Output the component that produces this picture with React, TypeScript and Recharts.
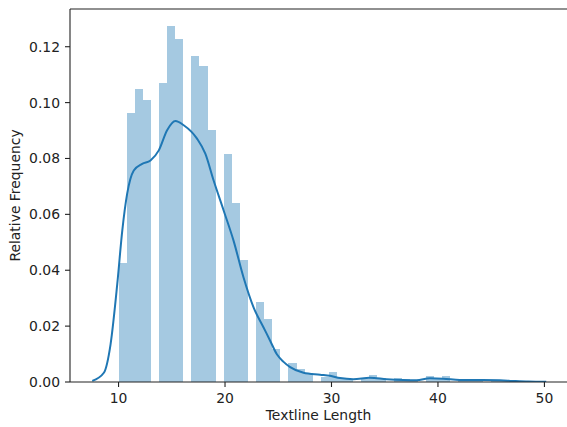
import { ComposedChart, Bar, Line, XAxis, YAxis, ReferenceLine } from 'recharts';

// histogram: 50 bins of width 0.76 starting at 10 (textline lengths are integers)
const BIN_START = 10;
const BIN_WIDTH = 0.76;
const binDensity = [
  0.0426, 0.0963, 0.1047, 0.1008, 0, 0.1069, 0.1275, 0.1228, 0, 0.1167,
  0.1131, 0.0901, 0, 0.0815, 0.0641, 0.0438, 0, 0.0288, 0.0227, 0.0117,
  0, 0.0069, 0.0047, 0.0034, 0, 0.0018, 0.0035, 0.0014, 0.0012, 0,
  0.0012, 0.0024, 0.0014, 0, 0.0015, 0.001, 0.0008, 0, 0.002, 0.0012,
  0.002, 0, 0.0008, 0.0007, 0.0008, 0, 0.0006, 0.0005, 0.0003, 0.0003,
];

// kde curve
const kdeX = [
  7.53, 8.62, 9.25, 9.88, 10.35, 10.81, 11.43, 12.22, 13.0, 13.78, 14.56, 15.34,
  16.12, 17.37, 18.15, 18.93, 19.87, 20.8, 21.74, 22.68, 23.62, 24.25, 24.87,
  25.5, 26.12, 27.37, 28.93, 29.87, 30.8, 32.05, 33.6, 35.18, 36.74, 37.99,
  39.24, 40.49, 42.05, 44.24, 45.8, 47.05, 48.5, 50.17,
];
const kdeY = [
  0.0004, 0.0033, 0.0135, 0.0351, 0.0542, 0.0674, 0.0757, 0.0781, 0.0793, 0.0829, 0.0901, 0.0934,
  0.0919, 0.0871, 0.0817, 0.0721, 0.0614, 0.0506, 0.0374, 0.0267, 0.0195, 0.0147, 0.0099,
  0.0072, 0.0053, 0.0033, 0.0026, 0.0022, 0.0014, 0.001, 0.0015, 0.001, 0.0007, 0.0006,
  0.0013, 0.0012, 0.0007, 0.0007, 0.0006, 0.0004, 0.0002, 0.0001,
];

const xTicks = [10, 20, 30, 40, 50];
const yTicks = [0, 0.02, 0.04, 0.06, 0.08, 0.1, 0.12];

const X_DOMAIN: [number, number] = [5.44, 52.12];
const Y_DOMAIN: [number, number] = [0, 0.1335];

const W = 567;
const H = 427;
const LEFT = 70;
const TOP = 9;
const BOTTOM = 45;

const bins = binDensity.map((d, i) => ({ x: BIN_START + BIN_WIDTH * (i + 0.5), density: d }));
const kde = kdeX.map((x, i) => ({ x, kde: kdeY[i] }));

const plotW = W - LEFT;
const barPx = (BIN_WIDTH * plotW) / (X_DOMAIN[1] - X_DOMAIN[0]);

const font = { fontFamily: 'DejaVu Sans', fontSize: 13.9, fill: '#222' };

// bar centred on its bin, full bin width
const BinBar = (props: any) => {
  const { x, y, width, height } = props;
  if (!height || height <= 0) return null;
  const cx = x + width / 2;
  return (
    <rect
      x={cx - barPx / 2}
      y={y}
      width={barPx}
      height={height}
      fill="#a5c9e1"
      shapeRendering="crispEdges"
    />
  );
};

export default function App() {
  return (
    <div style={{ position: 'absolute', left: 0, top: 0, background: '#fff' }}>
      <ComposedChart
        width={W}
        height={H}
        data={bins}
        margin={{ top: TOP, right: 0, bottom: 0, left: 0 }}
        barCategoryGap={0}
        barGap={0}
      >
        <XAxis
          dataKey="x"
          type="number"
          domain={X_DOMAIN}
          allowDataOverflow
          ticks={xTicks}
          interval={0}
          height={BOTTOM}
          tickSize={5}
          tickMargin={6}
          tick={font}
          tickLine={{ stroke: '#222', strokeWidth: 1.1 }}
          axisLine={{ stroke: '#222', strokeWidth: 1.1 }}
          label={{ value: 'Textline Length', position: 'insideBottom', offset: 7, style: font }}
        />
        <XAxis xAxisId="kde" dataKey="x" type="number" domain={X_DOMAIN} allowDataOverflow hide />
        <YAxis
          type="number"
          domain={Y_DOMAIN}
          allowDataOverflow
          ticks={yTicks}
          interval={0}
          width={LEFT}
          tickSize={5}
          tickMargin={5}
          tick={font}
          tickFormatter={(v: number) => v.toFixed(2)}
          tickLine={{ stroke: '#222', strokeWidth: 1.1 }}
          axisLine={{ stroke: '#222', strokeWidth: 1.1 }}
          label={{ value: 'Relative Frequency', angle: -90, position: 'insideLeft', offset: 15, style: { ...font, textAnchor: 'middle' } }}
        />
        <ReferenceLine y={Y_DOMAIN[1]} stroke="#222" strokeWidth={1.1} />
        <Bar dataKey="density" shape={BinBar} isAnimationActive={false} />
        <Line
          xAxisId="kde"
          data={kde}
          dataKey="kde"
          type="monotone"
          stroke="#1f77b4"
          strokeWidth={2}
          dot={false}
          activeDot={false}
          isAnimationActive={false}
        />
      </ComposedChart>
    </div>
  );
}
